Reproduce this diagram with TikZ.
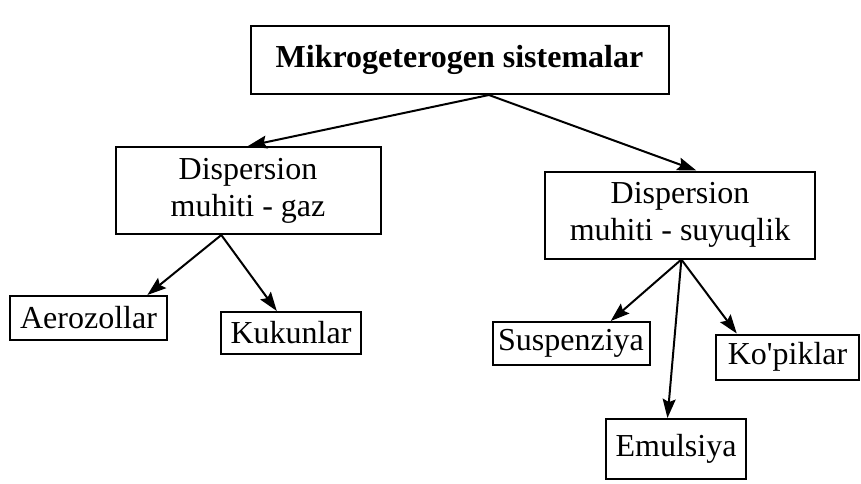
\documentclass[tikz,border=0pt]{standalone}
\usepackage{fontspec}
\setmainfont{Liberation Serif}
\usetikzlibrary{arrows.meta,calc}
\begin{document}
\begin{tikzpicture}[x=1pt,y=-1pt,
  box/.style={draw,line width=2pt,inner sep=0pt,align=center,font=\fontsize{32}{37}\selectfont},
  arr/.style={line width=2pt,-{Stealth[length=19pt,width=13pt,inset=3pt]}}]
\useasboundingbox (0,0) rectangle (861,483);
\node[box,minimum width=418pt,minimum height=68pt,font=\fontsize{32}{37}\selectfont\bfseries] (top) at (459.5,60) {Mikrogeterogen sistemalar};
\node[box,minimum width=265pt,minimum height=87pt] (left) at (248,190.5) {Dispersion\\muhiti - gaz};
\node[box,minimum width=270pt,minimum height=87pt] (right) at (680,215) {Dispersion\\muhiti - suyuqlik};
\node[box,minimum width=157pt,minimum height=44pt] (aero) at (88.5,318) {Aerozollar};
\node[box,minimum width=140pt,minimum height=42pt] (kuku) at (291,333) {Kukunlar};
\node[box,minimum width=157pt,minimum height=43pt] (susp) at (571,343.5) {Suspenziya};
\node[box,minimum width=143pt,minimum height=45pt] (kopi) at (787.5,357) {Ko\textquotesingle piklar};
\node[box,minimum width=140pt,minimum height=60pt] (emul) at (676,449) {Emulsiya};
\coordinate (tj) at ($(top.south west)!0.57!(top.south east)$);
\coordinate (ltip) at ($(left.north west)!0.5!(left.north east)$);
\coordinate (rtip) at ($(right.north west)!0.56!(right.north east)$);
\coordinate (lj) at ($(left.south west)!0.40!(left.south east)$);
\coordinate (rj) at ($(right.south west)!0.505!(right.south east)$);
\coordinate (atip) at ($(aero.north west)!0.87!(aero.north east)$);
\coordinate (ktip) at ($(kuku.north west)!0.40!(kuku.north east)$);
\coordinate (stip) at ($(susp.north west)!0.75!(susp.north east)$);
\coordinate (etip) at ($(emul.north west)!0.44!(emul.north east)$);
\coordinate (ptip) at ($(kopi.north west)!0.15!(kopi.north east)$);
\draw[arr] (tj) -- (ltip);
\draw[arr] (tj) -- (rtip);
\draw[arr] (lj) -- (atip);
\draw[arr] (lj) -- (ktip);
\draw[arr] (rj) -- (stip);
\draw[arr] (rj) -- (etip);
\draw[arr] (rj) -- (ptip);
\end{tikzpicture}
\end{document}
